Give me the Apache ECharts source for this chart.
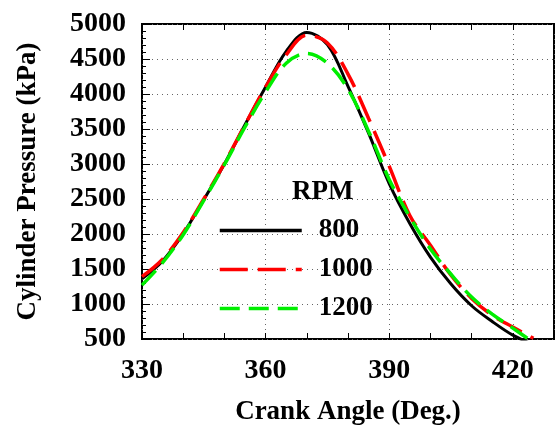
<!DOCTYPE html>
<html>
<head>
<meta charset="utf-8">
<script src="https://cdn.jsdelivr.net/npm/echarts@6/dist/echarts.min.js"></script>
<style>
html, body { margin: 0; padding: 0; background: #fff; }
#main { width: 557px; height: 434px; }
</style>
</head>
<body>
<div id="main"></div>
<script>
// crank angle (deg) and cylinder pressure (kPa)
var crankAngle = [330, 335, 340, 345, 350, 355, 360, 365, 370, 375, 380, 385, 390, 395, 400, 405, 410, 415, 420, 425];
var rpm800  = [1360, 1615, 2005, 2490, 3000, 3560, 4100, 4610, 4880, 4705, 4110, 3440, 2720, 2150, 1670, 1285, 975, 750, 555, 420];
var rpm1000 = [1390, 1640, 2020, 2500, 3010, 3560, 4100, 4560, 4840, 4730, 4285, 3650, 2970, 2265, 1840, 1410, 1080, 840, 670, 510];
var rpm1200 = [1270, 1590, 1990, 2480, 2990, 3530, 4030, 4440, 4580, 4440, 4070, 3465, 2780, 2245, 1785, 1425, 1100, 855, 655, 450];
var seriesNames = ['800', '1000', '1200'];
var seriesColors = ['#000000', '#ff0000', '#00ee00'];
var xTickLabels = [330, 360, 390, 420];

var FONT = '"Liberation Serif", "DejaVu Serif", serif';

function pairs(vals) {
    return crankAngle.map(function (a, i) { return [a, vals[i]]; });
}

var chartDom = document.getElementById('main');
var myChart = echarts.init(chartDom);
var option;

option = {
    animation: false,
    backgroundColor: '#fff',
    grid: {
        left: 142,
        right: 0,
        top: 24,
        bottom: 95,
        show: true,
        borderColor: '#000',
        borderWidth: 2,
        backgroundColor: 'transparent'
    },
    legend: {
        data: seriesNames,
        orient: 'vertical',
        left: 213,
        top: 212,
        itemWidth: 82,
        itemHeight: 14,
        itemGap: 12,
        selectedMode: false,
        itemStyle: { opacity: 0 },
        lineStyle: { width: 3.5 },
        textStyle: {
            fontFamily: FONT,
            fontWeight: 'bold',
            fontSize: 27,
            color: '#000',
            padding: [0, 0, 0, 12]
        }
    },
    graphic: [
        {
            type: 'text',
            left: 292,
            top: 179,
            style: {
                text: 'RPM',
                font: 'bold 27px ' + FONT,
                fill: '#000'
            }
        }
    ],
    xAxis: [
        {
            type: 'value',
            position: 'bottom',
            min: 330,
            max: 430,
            interval: 10,
            axisLine: { show: false },
            axisTick: { show: true, inside: true, length: 6, lineStyle: { color: '#000', width: 1 } },
            axisLabel: {
                margin: 18,
                fontFamily: FONT,
                fontWeight: 'bold',
                fontSize: 28,
                color: '#000',
                formatter: function (v) {
                    return xTickLabels.indexOf(v) >= 0 ? String(v) : '';
                }
            },
            splitLine: { show: false },
            name: 'Crank Angle (Deg.)',
            nameLocation: 'middle',
            nameGap: 60,
            nameTextStyle: {
                fontFamily: FONT,
                fontWeight: 'bold',
                fontSize: 27,
                color: '#000'
            }
        },
        {
            type: 'value',
            position: 'bottom',
            min: 330,
            max: 430,
            interval: 30,
            axisLine: { show: false },
            axisTick: { show: false },
            axisLabel: { show: false },
            splitLine: { show: true, lineStyle: { color: '#666', width: 1, type: [1, 4] } }
        },
        {
            type: 'value',
            position: 'top',
            min: 330,
            max: 430,
            interval: 10,
            axisLine: { show: false },
            axisTick: { show: true, inside: true, length: 6, lineStyle: { color: '#000', width: 1 } },
            axisLabel: { show: false },
            splitLine: { show: false }
        }
    ],
    yAxis: [
        {
            type: 'value',
            min: 500,
            max: 5000,
            interval: 500,
            axisLine: { show: false },
            axisTick: { show: true, inside: true, length: 8, lineStyle: { color: '#000', width: 1 } },
            minorTick: { show: true, splitNumber: 5, length: 4, lineStyle: { color: '#000', width: 1 } },
            axisLabel: {
                margin: 16,
                fontFamily: FONT,
                fontWeight: 'bold',
                fontSize: 28,
                color: '#000',
                formatter: function (v) { return String(v); }
            },
            splitLine: { show: true, lineStyle: { color: '#666', width: 1, type: [1, 4] } },
            name: 'Cylinder Pressure (kPa)',
            nameLocation: 'middle',
            nameGap: 100,
            nameTextStyle: {
                fontFamily: FONT,
                fontWeight: 'bold',
                fontSize: 27,
                color: '#000'
            }
        }
    ],
    series: [
        {
            name: seriesNames[0],
            type: 'line',
            data: pairs(rpm800),
            smooth: 0.35,
            symbol: 'none',
            itemStyle: { color: seriesColors[0] },
            lineStyle: { color: seriesColors[0], width: 3, type: 'solid' }
        },
        {
            name: seriesNames[1],
            type: 'line',
            data: pairs(rpm1000),
            smooth: 0.35,
            symbol: 'none',
            itemStyle: { color: seriesColors[1] },
            lineStyle: { color: seriesColors[1], width: 3.5, type: [28, 10] }
        },
        {
            name: seriesNames[2],
            type: 'line',
            data: pairs(rpm1200),
            smooth: 0.35,
            symbol: 'none',
            itemStyle: { color: seriesColors[2] },
            lineStyle: { color: seriesColors[2], width: 3.5, type: [20, 9] }
        }
    ]
};

option && myChart.setOption(option);
</script>
</body>
</html>
